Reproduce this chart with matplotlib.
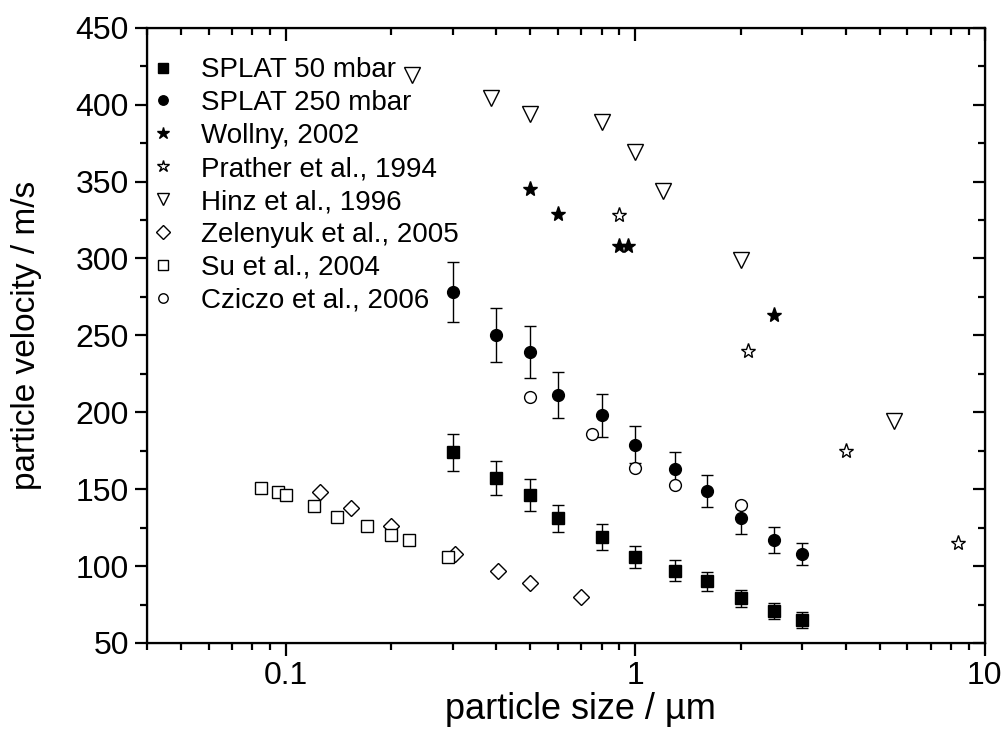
import numpy as np
import matplotlib
matplotlib.use("Agg")
import matplotlib.pyplot as plt
from matplotlib.ticker import MultipleLocator, LogLocator, NullFormatter, FixedLocator

# SPLAT measurements (size in um, velocity in m/s, error in m/s)
splat50_x = [0.3, 0.4, 0.5, 0.6, 0.8, 1.0, 1.3, 1.6, 2.0, 2.5, 3.0]
splat50_y = [174, 157, 146, 131, 119, 106, 97, 90, 79, 71, 65]
splat50_err = [12, 11, 10.5, 9, 8.5, 7.3, 6.7, 6.3, 5.6, 5.3, 5]

splat250_x = [0.3, 0.4, 0.5, 0.6, 0.8, 1.0, 1.3, 1.6, 2.0, 2.5, 3.0]
splat250_y = [278, 250, 239, 211, 198, 179, 163, 149, 131, 117, 108]
splat250_err = [19.5, 17.5, 17, 15, 14, 12, 11, 10.5, 10, 8.5, 7.3]

# literature values
wollny_x = [0.5, 0.6, 0.9, 0.95, 2.5]
wollny_y = [345, 329, 308, 308, 263]

prather_x = [0.9, 2.1, 4.0, 8.4]
prather_y = [328, 240, 175, 115]

hinz_x = [0.23, 0.385, 0.5, 0.8, 1.0, 1.2, 2.0, 5.5]
hinz_y = [419, 404, 394, 389, 369, 344, 299, 194]

zelenyuk_x = [0.125, 0.153, 0.2, 0.305, 0.405, 0.5, 0.7]
zelenyuk_y = [148, 138, 126, 108, 97, 89, 80]

su_x = [0.085, 0.095, 0.1, 0.12, 0.14, 0.17, 0.2, 0.225, 0.29]
su_y = [151, 148, 146, 139, 132, 126, 120, 117, 106]

cziczo_x = [0.5, 0.75, 1.0, 1.3, 2.0]
cziczo_y = [210, 186, 164, 153, 140]

plt.rcParams['font.family'] = ['Liberation Sans', 'DejaVu Sans']

fig = plt.figure(figsize=(10.07, 7.29), dpi=100)
ax = fig.add_axes([0.146, 0.118, 0.832, 0.844])

ms = 8.5
eb_kw = dict(color='black', ms=ms, capsize=4.3, elinewidth=1, capthick=1)
open_kw = dict(mfc='white', mec='black', mew=1, ls='none')

h = []
h.append(ax.errorbar(splat50_x, splat50_y, yerr=splat50_err, fmt='s', **eb_kw)[0])
h.append(ax.errorbar(splat250_x, splat250_y, yerr=splat250_err, fmt='o', **eb_kw)[0])
h += ax.plot(wollny_x, wollny_y, '*', color='black', ms=11)
h += ax.plot(prather_x, prather_y, marker='*', ms=11, **open_kw)
h += ax.plot(hinz_x, hinz_y, marker='v', ms=11, **open_kw)
h += ax.plot(zelenyuk_x, zelenyuk_y, marker='D', ms=8.5, **open_kw)
h += ax.plot(su_x, su_y, marker='s', ms=8.5, **open_kw)
h += ax.plot(cziczo_x, cziczo_y, marker='o', ms=8.5, **open_kw)
labels = ['SPLAT 50 mbar', 'SPLAT 250 mbar', 'Wollny, 2002', 'Prather et al., 1994',
          'Hinz et al., 1996', 'Zelenyuk et al., 2005', 'Su et al., 2004',
          'Cziczo et al., 2006']

ax.set_xscale('log')
ax.set_xlim(0.04, 10)
ax.set_ylim(50, 450)
ax.yaxis.set_major_locator(MultipleLocator(50))
ax.yaxis.set_minor_locator(MultipleLocator(25))
ax.xaxis.set_major_locator(FixedLocator([0.1, 1, 10]))
ax.xaxis.set_major_formatter(plt.FuncFormatter(lambda v, p: '%g' % v))
ax.xaxis.set_minor_locator(LogLocator(base=10, subs=np.arange(2, 10), numticks=20))
ax.xaxis.set_minor_formatter(NullFormatter())

for s in ax.spines.values():
    s.set_linewidth(1.6)
ax.tick_params(which='both', direction='out', width=1.6, labelsize=23,
               top=False, right=False)
ax.tick_params(which='major', length=9)
ax.tick_params(which='minor', length=5)
ax.tick_params(axis='x', pad=4)
ax.tick_params(axis='y', pad=4)

# mirrored ticks on top and right, pointing inwards
top = ax.twiny()
top.set_xscale('log')
top.set_xlim(ax.get_xlim())
top.xaxis.set_major_locator(FixedLocator([0.1, 1, 10]))
top.xaxis.set_minor_locator(LogLocator(base=10, subs=np.arange(2, 10), numticks=20))
top.tick_params(which='both', direction='in', width=1.6, labeltop=False)
top.tick_params(which='major', length=9)
top.tick_params(which='minor', length=5)
right = ax.twinx()
right.set_ylim(ax.get_ylim())
right.yaxis.set_major_locator(MultipleLocator(50))
right.yaxis.set_minor_locator(MultipleLocator(25))
right.tick_params(which='both', direction='in', width=1.6, labelright=False)
right.tick_params(which='major', length=9)
right.tick_params(which='minor', length=5)

ax.set_xlabel('particle size / µm', fontsize=26)
ax.xaxis.set_label_coords(0.517, -0.08)
ax.set_ylabel('particle velocity / m/s', fontsize=24)
ax.yaxis.set_label_coords(-0.125, 0.5)

ax.legend(h, labels, loc='upper left', bbox_to_anchor=(0.003, 0.952),
          fontsize=20, frameon=False, markerscale=0.8,
          handlelength=1.0, handletextpad=0.85, labelspacing=0.25,
          borderaxespad=0, borderpad=0)

fig.savefig('out.png', dpi=100)
